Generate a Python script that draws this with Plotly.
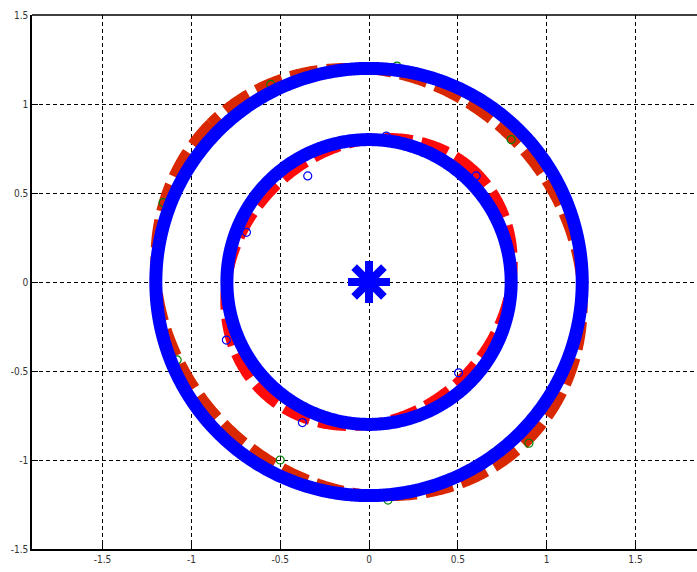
import numpy as np
import plotly.graph_objects as go

# ---- data ----
# true rings (blue, solid)
ring_radii = [0.8, 1.2]
# fitted ellipses (red, dashed): cx, cy, semi-major, semi-minor, major-axis angle (deg)
fit_inner = dict(cx=0.0, cy=0.0, a=0.862, b=0.752, ang=45)
fit_outer = dict(cx=0.0, cy=0.0, a=1.262, b=1.14, ang=135)
# sample points
green_x = [-1.159, -0.553, 0.157, 0.80, 0.90, -0.50, -1.08, 0.107]
green_y = [0.446, 1.11, 1.213, 0.80, -0.906, -1.00, -0.438, -1.225]
blue_x = [-0.345, 0.603, -0.69, -0.803, -0.375, 0.504, 0.097]
blue_y = [0.596, 0.596, 0.279, -0.326, -0.79, -0.51, 0.82]
center_x = [0.0]
center_y = [0.0]
tick_vals = [-1.5, -1, -0.5, 0, 0.5, 1, 1.5]
tick_text = ["-1.5", "-1", "-0.5", "0", "0.5", "1", "1.5"]

theta = np.linspace(0, 2 * np.pi, 721)


def ellipse(p):
    t = np.deg2rad(p["ang"])
    ex = p["a"] * np.cos(theta)
    ey = p["b"] * np.sin(theta)
    return (p["cx"] + ex * np.cos(t) - ey * np.sin(t),
            p["cy"] + ex * np.sin(t) + ey * np.cos(t))


fig = go.Figure()

ox, oy = ellipse(fit_outer)
fig.add_trace(go.Scatter(x=ox, y=oy, mode="lines",
                         line=dict(color="#D92800", width=10, dash="28px,9px",
                                   simplify=False)))
ix, iy = ellipse(fit_inner)
fig.add_trace(go.Scatter(x=ix, y=iy, mode="lines",
                         line=dict(color="#FF0A0A", width=10, dash="28px,9px",
                                   simplify=False)))

fig.add_trace(go.Scatter(x=green_x, y=green_y, mode="markers",
                         marker=dict(symbol="circle-open", size=8, color="#008000",
                                     line=dict(width=1.2, color="#008000"))))

for r in ring_radii:
    fig.add_trace(go.Scatter(x=r * np.cos(theta), y=r * np.sin(theta), mode="lines",
                             line=dict(color="#0000FF", width=13, simplify=False)))

fig.add_trace(go.Scatter(x=blue_x, y=blue_y, mode="markers",
                         marker=dict(symbol="circle-open", size=8, color="#0000FF",
                                     line=dict(width=1.2, color="#0000FF"))))

fig.add_trace(go.Scatter(x=center_x, y=center_y, mode="markers",
                         marker=dict(symbol="asterisk-open", size=35, color="#0000FF",
                                     line=dict(width=8, color="#0000FF"))))

axis_common = dict(
    tickmode="array", tickvals=tick_vals, ticktext=tick_text,
    showgrid=True, gridcolor="black", gridwidth=1, griddash="4px,3px",
    zeroline=False, showline=True, linecolor="black", linewidth=1.5,
    ticks="inside", ticklen=6, tickcolor="black", tickwidth=1,
    automargin=False,
    tickfont=dict(family="Liberation Sans Narrow, DejaVu Sans Condensed, sans-serif",
                  size=10, color="#333333"),
)

fig.update_xaxes(range=[-1.897, 1.846], **axis_common)
fig.update_yaxes(range=[-1.5, 1.5], **axis_common)

fig.add_shape(type="line", xref="paper", yref="paper", x0=0, x1=1, y0=1, y1=1,
              line=dict(color="black", width=1.5))

fig.update_layout(
    width=697, height=572,
    margin=dict(l=32, r=0, t=15, b=23),
    plot_bgcolor="white", paper_bgcolor="white",
    showlegend=False,
)

fig.write_html("out.html",
               config={"displayModeBar": False},
               post_script="document.body.style.margin='0';"
                           "document.body.style.overflow='hidden';")
